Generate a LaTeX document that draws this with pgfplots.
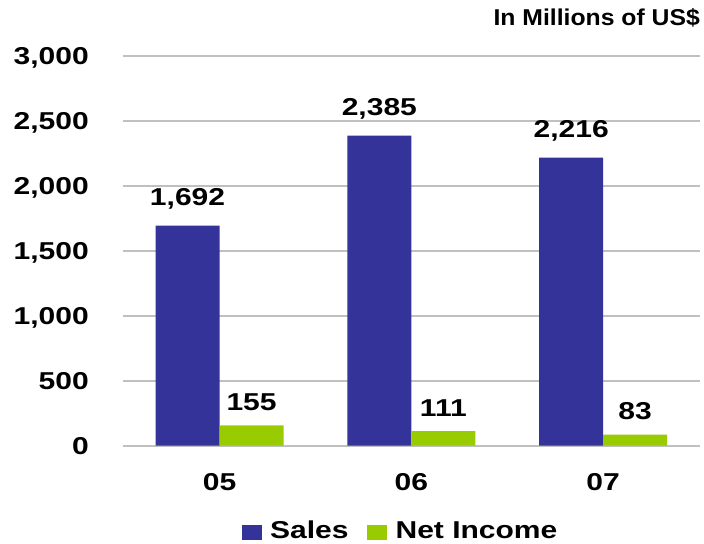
\documentclass[border=0pt]{standalone}
\usepackage{fontspec}
\usepackage{pgfplots}
\pgfplotsset{compat=1.18}
\newfontfamily\chartfont{Liberation Sans}[FakeStretch=1.23]
\newfontfamily\titlefont{Liberation Sans}[FakeStretch=1.08]
\newcommand\cf{\chartfont\bfseries\fontsize{24.5}{28}\selectfont}
\definecolor{salescol}{HTML}{333399}
\definecolor{netcol}{HTML}{99CC00}
\definecolor{gridcol}{HTML}{C0C0C0}
\pgfplotsset{sqlegend/.style={legend image code/.code={\fill[##1] (0bp,-8.8bp) rectangle (20bp,6.2bp);}}}
\begin{document}
\begin{tikzpicture}
\begin{axis}[
  scale only axis, width=577.3bp, height=389.8bp,
  xmin=-0.505, xmax=2.505, ymin=0, ymax=3000,
  ybar=0pt, bar width=64bp,
  clip=false,
  xtick={0,1,2}, xticklabels={05,06,07},
  ytick={0,500,1000,1500,2000,2500,3000},
  ymajorgrids, grid style={gridcol, line width=2bp},
  axis line style={draw=none}, tick style={draw=none},
  major tick length=0pt,
  /pgf/number format/1000 sep={,},
  /pgf/number format/assume math mode=true,
  ticklabel style={font=\cf},
  yticklabel style={anchor=base east, inner sep=0pt, xshift=-33.7bp, yshift=-8.8bp},
  xticklabel style={anchor=base, inner sep=0pt, yshift=-45.3bp},
  legend style={draw=none, fill=none, at={(0.206,-0.2186)}, anchor=west,
    inner sep=0pt, font=\cf, nodes={inner sep=0pt},
    /tikz/every odd column/.append style={column sep=8.3bp},
    /tikz/every even column/.append style={column sep=18.7bp}},
  legend columns=2,
]
\addplot[fill=salescol, draw=none, nodes near coords,
  every node near coord/.append style={anchor=base, inner sep=0pt, yshift=20bp, font=\cf, text=black},
  sqlegend]
  coordinates {(0,1692) (1,2385) (2,2216)};
\addplot[fill=netcol, draw=none, nodes near coords,
  every node near coord/.append style={anchor=base, inner sep=0pt, yshift=15bp, font=\cf, text=black},
  sqlegend]
  coordinates {(0,155) (1,111) (2,83)};
\legend{Sales, Net Income}
\node[font=\titlefont\bfseries\fontsize{23}{27}\selectfont, anchor=base east, inner sep=0pt]
  at (rel axis cs:1,1) [yshift=29.7bp] {In Millions of US\$};
\end{axis}
\path (current axis.south west) ++(-122.7bp,-98.5bp) coordinate (bl);
\path (current axis.north east) ++(4bp,55.7bp) coordinate (tr);
\path (bl) rectangle (tr);
\end{tikzpicture}
\end{document}
